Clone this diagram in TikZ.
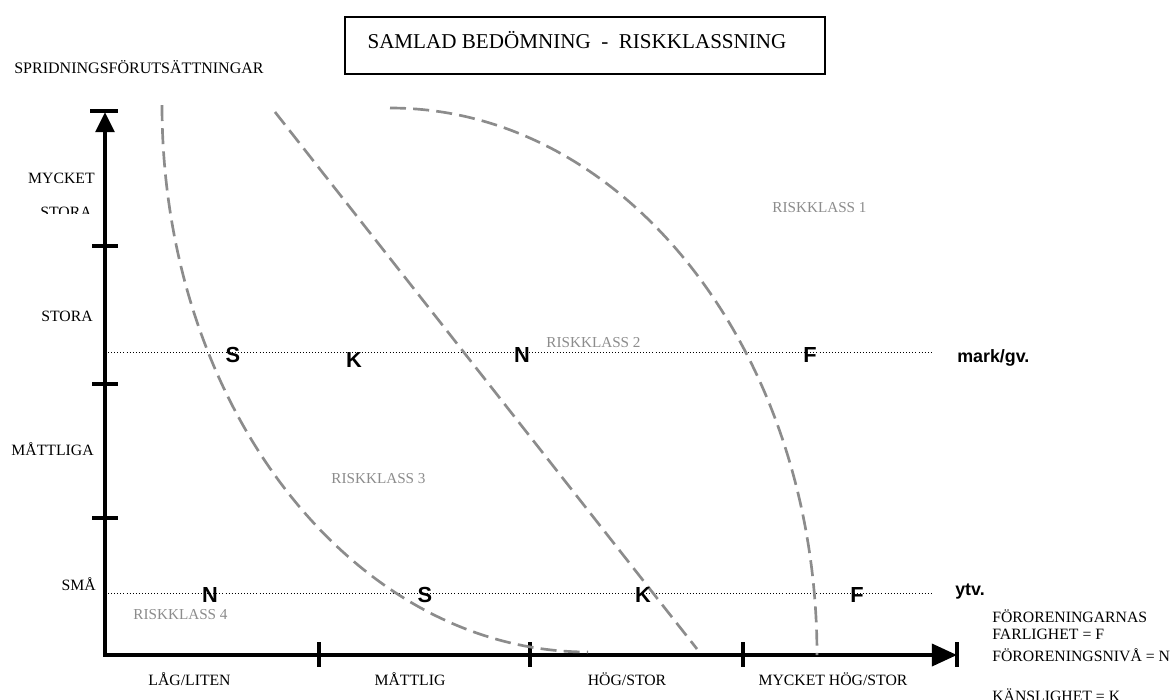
\documentclass[tikz,border=0pt]{standalone}
\usepackage{fontspec}
\setmainfont{Liberation Serif}
\setsansfont{Liberation Sans}
\usetikzlibrary{arrows.meta,calc,positioning}

\begin{document}
\begin{tikzpicture}[x=0.025cm,y=-0.025cm,
every node/.style={inner sep=0pt},
lab/.style={font=\fontsize{11.2}{13}\selectfont},
rk/.style={font=\fontsize{10.8}{13}\selectfont,text=black!45,anchor=base},
ltr/.style={font=\fontsize{15.5}{18}\selectfont\sffamily\bfseries},
tag/.style={font=\fontsize{12.7}{15}\selectfont\sffamily\bfseries,anchor=base west},
axis/.style={line width=2.8pt},
tck/.style={line width=2.2pt},
niv/.style={line width=0.7pt,dash pattern=on 0.7pt off 1.5pt},
zon/.style={draw=black!45,line width=1.9pt,dash pattern=on 0.4cm off 0.18cm}]
\useasboundingbox (0,0) rectangle (1172,699);

\node[draw,line width=1.2pt,minimum width=12cm,minimum height=1.425cm] (ram) at (585,45.5) {};
\node[font=\fontsize{15}{18}\selectfont] (titel) at (577,40) {SAMLAD BEDÖMNING \ - \ RISKKLASSNING};
\node[font=\fontsize{11.4}{13}\selectfont,anchor=base west] (spr) at (14,73) {SPRIDNINGSFÖRUTSÄTTNINGAR};

\coordinate (O) at (105,655);
\coordinate (ytopp) at (105,112);
\coordinate (xslut) at (957,655);
\draw[axis,{Triangle[length=0.5cm,width=0.46cm]}-{Triangle[length=0.63cm,width=0.55cm]}] (ytopp) -- (O) -- (xslut);
\draw[tck] ($(ytopp)+(-15,-1)$) -- ($(ytopp)+(13,-1)$);
\draw[line width=3.2pt] ($(xslut)+(0,-13)$) -- ($(xslut)+(0,12)$);
\foreach \y in {246,384,518} \draw[tck] (92,\y) -- (118,\y);
\foreach \x in {319,530,743} \draw[tck] (\x,642) -- (\x,667);

\node[lab,anchor=base east] (y1) at (95,183) {MYCKET};
\begin{scope}
\clip (0,190) rectangle (100,213);
\node[lab,anchor=base east] (y1b) at (92,217) {STORA};
\end{scope}
\node[lab,anchor=base east] (y2) at (93,321) {STORA};
\node[lab,anchor=base east] (y3) at (94,455) {MÅTTLIGA};
\node[lab,anchor=base east] (y4) at (96,590) {SMÅ};

\node[lab,anchor=base] (x1) at (189.5,685) {LÅG/LITEN};
\node[lab,anchor=base] (x2) at (410,685) {MÅTTLIG};
\node[lab,anchor=base] (x3) at (627,685) {HÖG/STOR};
\node[lab,anchor=base] (x4) at (833,685) {MYCKET HÖG/STOR};

\coordinate (m0) at (108,352);
\coordinate (m1) at (933,352);
\coordinate (v0) at (108,593);
\coordinate (v1) at (933,593);
\draw[niv] (m0) -- (m1);
\draw[niv] (v0) -- (v1);

\draw[zon] (162,105) .. controls (162,407) and (354,652) .. (588,652);
\draw[zon] (275,112) -- (697,649);
\draw[zon] (390,108) .. controls (626,108) and (817,353) .. (817,655);

\node[ltr] (mS) at (233,355) {S};
\node[ltr] (mK) at (354,360) {K};
\node[ltr] (mN) at (522,355) {N};
\node[ltr] (mF) at (810,355) {F};
\node[ltr] (vN) at (210,595) {N};
\node[ltr] (vS) at (425,595) {S};
\node[ltr] (vK) at (643,595) {K};
\node[ltr] (vF) at (857,595) {F};
\node[tag] (mark) at (957,362) {mark/gv.};
\node[tag] (ytv) at (955,595) {ytv.};

\node[rk] (rk1) at (819.5,212) {RISKKLASS 1};
\node[rk] (rk2) at (593.5,347) {RISKKLASS 2};
\node[rk] (rk3) at (378.5,483) {RISKKLASS 3};
\node[rk] (rk4) at (180.5,619) {RISKKLASS 4};

\node[lab,anchor=base west] (f1) at (992,622) {FÖRORENINGARNAS};
\node[lab,anchor=base west] (f2) at (992,639) {FARLIGHET = F};
\node[lab,anchor=base west] (f3) at (992,661) {FÖRORENINGSNIVÅ = N};
\node[lab,anchor=base west] (f4) at (992,701) {KÄNSLIGHET = K};
\end{tikzpicture}
\end{document}
